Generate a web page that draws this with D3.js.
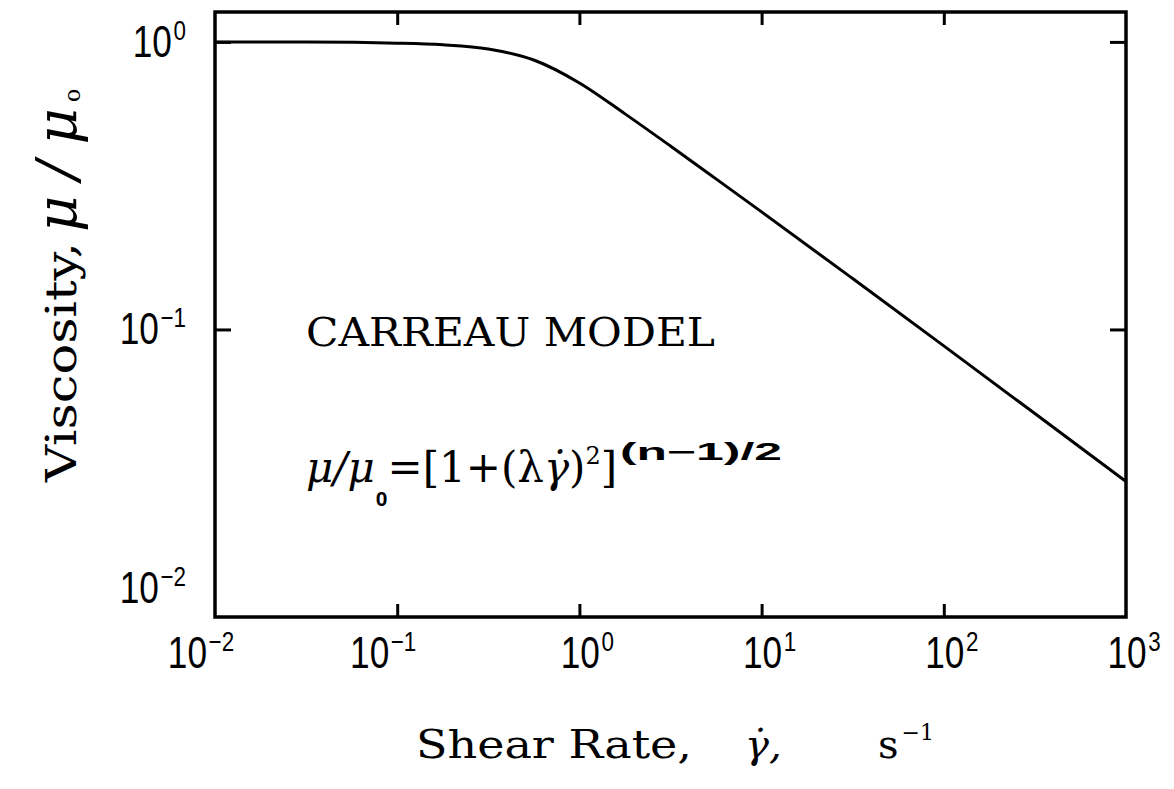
<!DOCTYPE html>
<html>
<head>
<meta charset="utf-8">
<script src="https://cdn.jsdelivr.net/npm/d3@7"></script>
<style>
  body { margin: 0; background: #fff; }
  svg { display: block; }
  text { fill: #000; }
</style>
</head>
<body>
<svg id="chart" width="1174" height="789"></svg>
<script>
// Carreau model curve: shear rate (1/s) and relative viscosity mu/mu0
const shearRate = [0.01, 0.0316, 0.1, 0.178, 0.316, 0.562, 1, 1.78, 3.16, 5.62, 10, 31.6, 100, 316, 1000];
const viscosityRatio = [1.0, 0.999, 0.99, 0.977, 0.945, 0.865, 0.72, 0.562, 0.4345, 0.334, 0.2564, 0.1503, 0.0877, 0.051, 0.0296];

// Decade ticks (exponents of ten)
const xTickExponents = [-2, -1, 0, 1, 2, 3];
const yTickExponents = [-2, -1, 0];

const svg = d3.select("#chart");
const plot = { left: 215, right: 1126, top: 12, bottom: 617 };

const x = d3.scaleLog().domain([1e-2, 1e3]).range([plot.left, plot.right]);
const y = d3.scaleLog().domain([1e-2, Math.pow(10, 0.104)]).range([plot.bottom, plot.top]);

const innerX = xTickExponents.slice(1, -1).map(e => Math.pow(10, e));
const innerY = yTickExponents.slice(1).map(e => Math.pow(10, e));

// inward ticks on all four sides
function styleAxis(g) {
  g.select(".domain").remove();
  g.selectAll(".tick line").attr("stroke", "#000").attr("stroke-width", 3);
  g.selectAll(".tick text").remove();
}
svg.append("g").attr("transform", `translate(0,${plot.bottom})`)
  .call(d3.axisBottom(x).tickValues(innerX).tickSize(-13).tickFormat(() => "")).call(styleAxis);
svg.append("g").attr("transform", `translate(0,${plot.top})`)
  .call(d3.axisTop(x).tickValues(innerX).tickSize(-13).tickFormat(() => "")).call(styleAxis);
svg.append("g").attr("transform", `translate(${plot.left},0)`)
  .call(d3.axisLeft(y).tickValues(innerY).tickSize(-16).tickFormat(() => "")).call(styleAxis);
svg.append("g").attr("transform", `translate(${plot.right},0)`)
  .call(d3.axisRight(y).tickValues(innerY).tickSize(-16).tickFormat(() => "")).call(styleAxis);

// frame
svg.append("rect")
  .attr("x", plot.left).attr("y", plot.top)
  .attr("width", plot.right - plot.left).attr("height", plot.bottom - plot.top)
  .attr("fill", "none").attr("stroke", "#000").attr("stroke-width", 3.5);

// curve
const pts = shearRate.map((s, i) => [s, viscosityRatio[i]]);
const line = d3.line()
  .x(d => x(d[0])).y(d => y(d[1]))
  .curve(d3.curveMonotoneX);
svg.append("path").datum(pts)
  .attr("d", line)
  .attr("fill", "none").attr("stroke", "#000").attr("stroke-width", 3)
  .attr("stroke-linejoin", "round");

// power-of-ten labels: "10" plus a raised exponent, slightly condensed
const sans = "'Liberation Sans', Arial, Helvetica, sans-serif";
function expText(e) { return e < 0 ? "\u2212" + (-e) : String(e); }
function powLabel(px, baseY, e, anchor) {
  const t = svg.append("text").attr("font-family", sans).attr("font-size", 44)
    .attr("text-anchor", anchor)
    .attr("transform", `translate(${px},${baseY}) scale(0.8,1)`);
  t.append("tspan").text("10");
  t.append("tspan").attr("font-size", 28).attr("dy", -17).attr("dx", 2).text(expText(e));
}
xTickExponents.forEach(e => {
  powLabel(x(Math.pow(10, e)) + (e < 0 ? -14 : 8), 668, e, "middle");
});
yTickExponents.forEach(e => {
  const by = e === -2 ? plot.bottom - 14 : y(Math.pow(10, e)) + 15;
  powLabel(186, by, e, "end");
});

const serif = "'DejaVu Serif', 'Liberation Serif', serif";

// x axis title
svg.append("text").attr("font-family", serif).attr("font-size", 40)
  .attr("x", 416).attr("y", 758).attr("textLength", 276).attr("lengthAdjust", "spacingAndGlyphs")
  .text("Shear Rate,");
svg.append("text").attr("font-family", serif).attr("font-size", 40).attr("font-style", "italic")
  .attr("x", 745).attr("y", 758).text("\u03B3\u0307,");
const su = svg.append("text").attr("font-family", serif).attr("font-size", 40)
  .attr("x", 878).attr("y", 758);
su.append("tspan").text("s");
su.append("tspan").attr("font-size", 22).attr("dy", -18).attr("dx", 3).text("\u22121");

// y axis title (rotated, reads bottom to top)
const yg = svg.append("g").attr("transform", "translate(76,0) rotate(-90)");
yg.append("text").attr("font-family", serif).attr("font-size", 42)
  .attr("x", -482).attr("y", 0).attr("textLength", 240).attr("lengthAdjust", "spacingAndGlyphs")
  .text("Viscosity,");
yg.append("text").attr("font-family", serif).attr("font-size", 56).attr("font-style", "italic")
  .attr("x", -232).attr("y", 0).attr("textLength", 124).attr("lengthAdjust", "spacing")
  .text("\u03BC/\u03BC");
yg.append("text").attr("font-family", serif).attr("font-size", 22)
  .attr("x", -102).attr("y", 4).text("o");

// model name and equation
svg.append("text").attr("font-family", serif).attr("font-size", 40)
  .attr("x", 306).attr("y", 346).attr("textLength", 409).attr("lengthAdjust", "spacingAndGlyphs")
  .text("CARREAU  MODEL");

const eq = svg.append("text").attr("font-family", serif).attr("font-size", 42)
  .attr("x", 306).attr("y", 482);
eq.append("tspan").attr("font-style", "italic").text("\u03BC/\u03BC");
eq.append("tspan").attr("font-family", sans).attr("font-weight", "bold").attr("font-size", 21).attr("dy", 24).attr("dx", 1).text("0");
eq.append("tspan").attr("dy", -24).text("=[1+(\u03BB");
eq.append("tspan").attr("font-style", "italic").text("\u03B3\u0307");
eq.append("tspan").text(")");
eq.append("tspan").attr("font-size", 24).attr("dy", -18).text("2");
eq.append("tspan").attr("dy", 18).text("]");
svg.append("text").attr("font-family", sans).attr("font-size", 23).attr("font-weight", "bold")
  .attr("x", 620).attr("y", 460).attr("textLength", 162).attr("lengthAdjust", "spacingAndGlyphs")
  .text("(n\u22121)/2");
</script>
</body>
</html>
